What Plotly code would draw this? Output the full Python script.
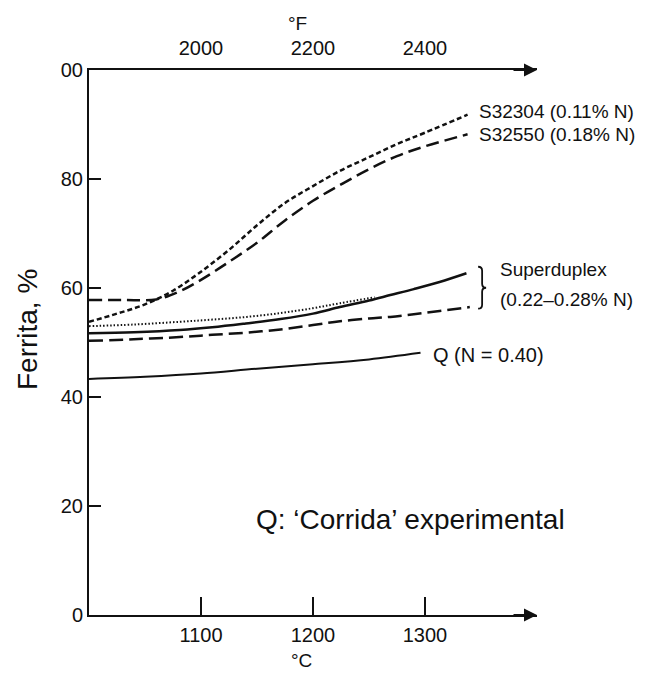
import plotly.graph_objects as go

# ---- data ----
x_s32304 = [1000, 1025, 1050, 1075, 1100, 1125, 1150, 1175, 1200, 1225, 1250, 1275, 1300, 1338]
y_s32304 = [53.8, 55.3, 57.0, 59.5, 63.0, 67.0, 71.5, 75.6, 78.7, 81.6, 84.0, 86.4, 88.5, 91.8]

x_s32550 = [1000, 1030, 1060, 1080, 1100, 1125, 1150, 1175, 1200, 1225, 1250, 1275, 1300, 1338]
y_s32550 = [57.8, 57.8, 57.9, 59.3, 61.5, 64.8, 68.3, 72.4, 76.0, 79.0, 81.8, 84.2, 86.0, 88.2]

x_sd_dot = [1000, 1040, 1081, 1110, 1141, 1171, 1200, 1224, 1255]
y_sd_dot = [53.0, 53.3, 53.8, 54.2, 54.7, 55.4, 56.3, 57.2, 58.3]

x_sd_solid = [1000, 1040, 1081, 1110, 1140, 1171, 1200, 1224, 1250, 1269, 1290, 1313, 1337]
y_sd_solid = [51.7, 51.9, 52.3, 52.8, 53.5, 54.3, 55.3, 56.5, 57.7, 58.7, 59.8, 61.1, 62.7]

x_sd_dash = [1000, 1040, 1081, 1110, 1140, 1171, 1200, 1224, 1250, 1269, 1290, 1313, 1340]
y_sd_dash = [50.3, 50.6, 51.0, 51.4, 51.8, 52.4, 53.2, 53.9, 54.4, 54.7, 55.2, 55.8, 56.5]

x_q = [1000, 1050, 1100, 1150, 1200, 1250, 1296]
y_q = [43.3, 43.7, 44.3, 45.2, 46.0, 46.9, 48.1]

x_ticks_c = [1100, 1200, 1300]
x_ticks_f = [2000, 2200, 2400]
y_ticks = [0, 20, 40, 60, 80, 100]
y_ticktext = ["0", "20", "40", "60", "80", "00"]

INK = "#111111"
FONT = "Liberation Sans, Arial, sans-serif"
TICK = 20

fig = go.Figure()

def add(x, y, dash, width=2.5):
    fig.add_trace(go.Scatter(x=x, y=y, mode="lines",
                             line=dict(color=INK, width=width, dash=dash, shape="spline"),
                             showlegend=False, hoverinfo="skip"))

add(x_s32304, y_s32304, "5px,3px")
add(x_s32550, y_s32550, "13px,6px")
add(x_sd_dot, y_sd_dot, "1.5px,2px", 2.0)
add(x_sd_solid, y_sd_solid, "solid")
add(x_sd_dash, y_sd_dash, "14px,6px")
add(x_q, y_q, "solid", 2.0)

# dummy trace so the top (°F) axis renders
fig.add_trace(go.Scatter(x=[1800, 2600], y=[None, None], xaxis="x2", yaxis="y", mode="lines",
                         showlegend=False, hoverinfo="skip"))

fig.update_layout(
    width=671, height=675,
    margin=dict(l=89, r=134, t=70, b=60),
    plot_bgcolor="white", paper_bgcolor="white",
    font=dict(family=FONT, color=INK, size=TICK),
    xaxis=dict(range=[1000, 1400], tickvals=x_ticks_c, ticks="inside", ticklen=18, tickwidth=1.5,
               tickcolor=INK, showline=True, linecolor=INK, linewidth=2, showgrid=False, zeroline=False,
               tickfont=dict(size=TICK), ticklabelstandoff=1),
    xaxis2=dict(range=[1800, 2600], overlaying="x", side="top", anchor="y", tickvals=x_ticks_f,
                ticks="", showline=True, linecolor=INK, linewidth=2, showgrid=False, zeroline=False,
                tickfont=dict(size=TICK), ticklabelstandoff=5),
    yaxis=dict(range=[0, 100], tickvals=y_ticks, ticktext=y_ticktext, ticks="inside", ticklen=12,
               tickwidth=1.5, tickcolor=INK, showline=True, linecolor=INK, linewidth=2, showgrid=False,
               zeroline=False, tickfont=dict(size=TICK)),
)

ann = []
def txt(x, y, s, size=21, xanchor="left", xref="x", yref="y", angle=0):
    ann.append(dict(x=x, y=y, xref=xref, yref=yref, text=s, showarrow=False, xanchor=xanchor,
                    yanchor="middle", textangle=angle, font=dict(size=size, color=INK, family=FONT)))

txt(1346, 92.4, "S32304 (0.11% N)", size=19)
txt(1346, 88.2, "S32550 (0.18% N)", size=19)
txt(1365, 63.4, "Superduplex", size=19)
txt(1365, 57.9, "(0.22–0.28% N)", size=19)
txt(1305, 47.7, "Q (N = 0.40)", size=20)
txt(1287, 17.6, "Q: ‘Corrida’ experimental", size=28, xanchor="center")

# axis unit labels (paper y: 0 -> bottom axis, 1 -> top axis)
txt(1190, -0.083, "°C", size=19, xanchor="center", yref="paper")
txt(1186, 1.085, "°F", size=19, xanchor="center", yref="paper")
txt(-0.136, 0.523, "Ferrita, %", size=28, xanchor="center", xref="paper", yref="paper", angle=-90)

# arrowheads at the axis ends
ann.append(dict(x=1400, y=0, ax=-25, ay=0, xref="x", yref="y", text="",
                showarrow=True, arrowhead=2, arrowsize=1.3, arrowwidth=2, arrowcolor=INK))
ann.append(dict(x=1400, y=100, ax=-25, ay=0, xref="x", yref="y", text="",
                showarrow=True, arrowhead=2, arrowsize=1.3, arrowwidth=2, arrowcolor=INK))
fig.update_layout(annotations=ann)

# curly brace grouping the superduplex curves (drawn as a path in data units)
px_x = 1 / 1.12   # °C per pixel
px_y = 1 / 5.45   # % per pixel
bx, by_top, by_bot = 1351.0, 63.9, 56.2
by_mid = (by_top + by_bot) / 2
w = 4 * px_x
r = 4 * px_y
path = (f"M {bx - w},{by_top} Q {bx},{by_top} {bx},{by_top - r} "
        f"L {bx},{by_mid + r} Q {bx},{by_mid} {bx + w},{by_mid} "
        f"Q {bx},{by_mid} {bx},{by_mid - r} "
        f"L {bx},{by_bot + r} Q {bx},{by_bot} {bx - w},{by_bot}")
fig.add_shape(type="path", path=path, xref="x", yref="y", line=dict(color=INK, width=1.8))

fig.write_html("out.html")
